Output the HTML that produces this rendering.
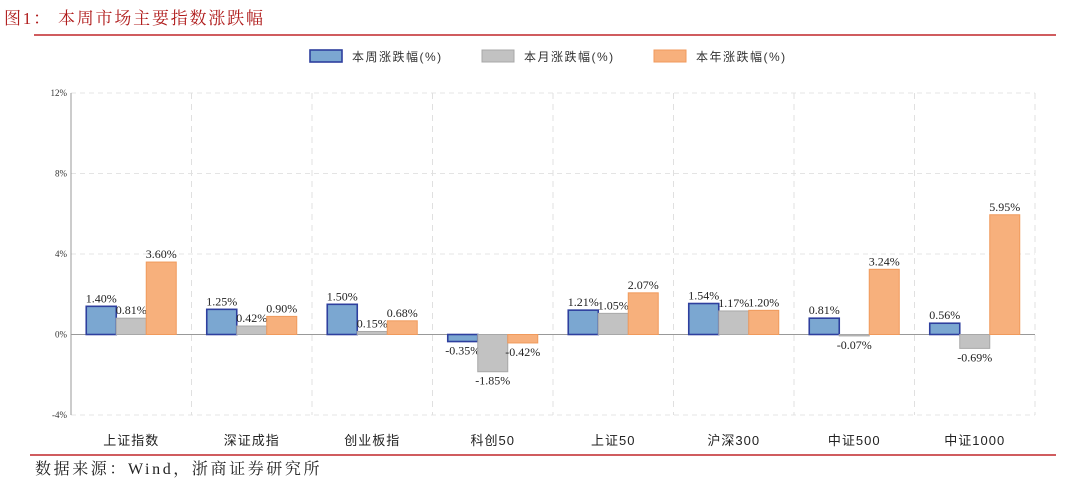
<!DOCTYPE html>
<html><head><meta charset="utf-8"><style>
body{margin:0;background:#fff;width:1080px;height:492px;overflow:hidden;font-family:"Liberation Serif","Noto Serif CJK SC",serif;}
</style></head><body>
<svg width="1080" height="492" xmlns="http://www.w3.org/2000/svg">
<text x="4" y="24" font-size="17" fill="#b01c1c" letter-spacing="1.8" font-family="Liberation Serif, Noto Serif CJK SC, serif">图1：  本周市场主要指数涨跌幅</text>
<line x1="34" y1="35" x2="1056" y2="35" stroke="#c0262a" stroke-width="1.5"/>
<g id="legend"></g>
<g id="plot"></g>
<line x1="30" y1="455" x2="1056" y2="455" stroke="#c0262a" stroke-width="1.5"/>
<text x="35" y="474" font-size="16" fill="#222" letter-spacing="2.6" font-family="Liberation Serif, Noto Serif CJK SC, serif">数据来源：Wind，浙商证券研究所</text>
</svg>
<script>
const categories=["上证指数","深证成指","创业板指","科创50","上证50","沪深300","中证500","中证1000"];
const weekly=[1.40,1.25,1.50,-0.35,1.21,1.54,0.81,0.56];
const monthly=[0.81,0.42,0.15,-1.85,1.05,1.17,-0.07,-0.69];
const yearly=[3.60,0.90,0.68,-0.42,2.07,1.20,3.24,5.95];
const seriesNames=["本周涨跌幅(%)","本月涨跌幅(%)","本年涨跌幅(%)"];
const yTicks=[-4,0,4,8,12];
const NS="http://www.w3.org/2000/svg";
const plot=document.getElementById('plot'),legend=document.getElementById('legend');
const X0=71,X1=1035,Y0=415,Y1=93,ymin=-4,ymax=12;
const catW=(X1-X0)/categories.length;
const y=v=>Y0-(v-ymin)/(ymax-ymin)*(Y0-Y1);
const fills=["#7ba7d1","#c2c2c2","#f7b07c"],strokes=["#2e3f9e","#a8a8a8","#f09a5c"];
function mk(t,a,p){const e=document.createElementNS(NS,t);for(const k in a)e.setAttribute(k,a[k]);(p||plot).appendChild(e);return e;}
yTicks.forEach(t=>{
 const g=mk('line',{x1:X0,x2:X1,y1:y(t),y2:y(t),stroke:t===0?'#999':'#e4e4e4','stroke-dasharray':t===0?'':'5,4'});
 
 
 const l=mk('text',{x:X0-4,y:y(t)+3,'font-size':9,'text-anchor':'end',fill:'#333'});
 l.textContent=t+'%';
 
 
});
for(let i=1;i<=categories.length;i++){
 const g=mk('line',{x1:X0+i*catW,x2:X0+i*catW,y1:Y1,y2:Y0,stroke:'#e0e0e0','stroke-dasharray':'6,5'});
 
 
}
const ax=mk('line',{x1:X0,x2:X0,y1:Y1,y2:Y0,stroke:'#999'});


const data=[weekly,monthly,yearly];
const bw=30;
categories.forEach((c,i)=>{
 const cx=X0+catW*(i+0.5);
 data.forEach((s,j)=>{
  const v=s[i],bx=cx-45+j*bw;
  const top=Math.min(y(v),y(0)),h=Math.abs(y(v)-y(0));
  const r=mk('rect',{x:bx,y:top,width:bw,height:Math.max(h,0.5),fill:fills[j],stroke:strokes[j],'stroke-width':j===0?1.6:1});
  
  
  const t=mk('text',{x:bx+bw/2,y:v>=0?top-4:top+h+13,'font-size':12,'text-anchor':'middle',fill:'#222'});
  t.textContent=v.toFixed(2)+'%';
  
  
 });
 const l=mk('text',{x:cx,y:445,'font-size':13,'text-anchor':'middle',fill:'#222','letter-spacing':1,'font-family':'Liberation Sans, Noto Sans CJK SC, sans-serif'});
 l.textContent=c;
 
 
});
const lx=[310,482,654];
seriesNames.forEach((n,j)=>{
 const r=mk('rect',{x:lx[j],y:50,width:32,height:12,fill:fills[j],stroke:strokes[j],'stroke-width':j===0?1.6:1},legend);
 
 
 const t=mk('text',{x:lx[j]+42,y:61,'font-size':12,fill:'#333','letter-spacing':1.5,'font-family':'Liberation Sans, Noto Sans CJK SC, sans-serif'},legend);
 t.textContent=n;
 
 
});
</script>
</body></html>
